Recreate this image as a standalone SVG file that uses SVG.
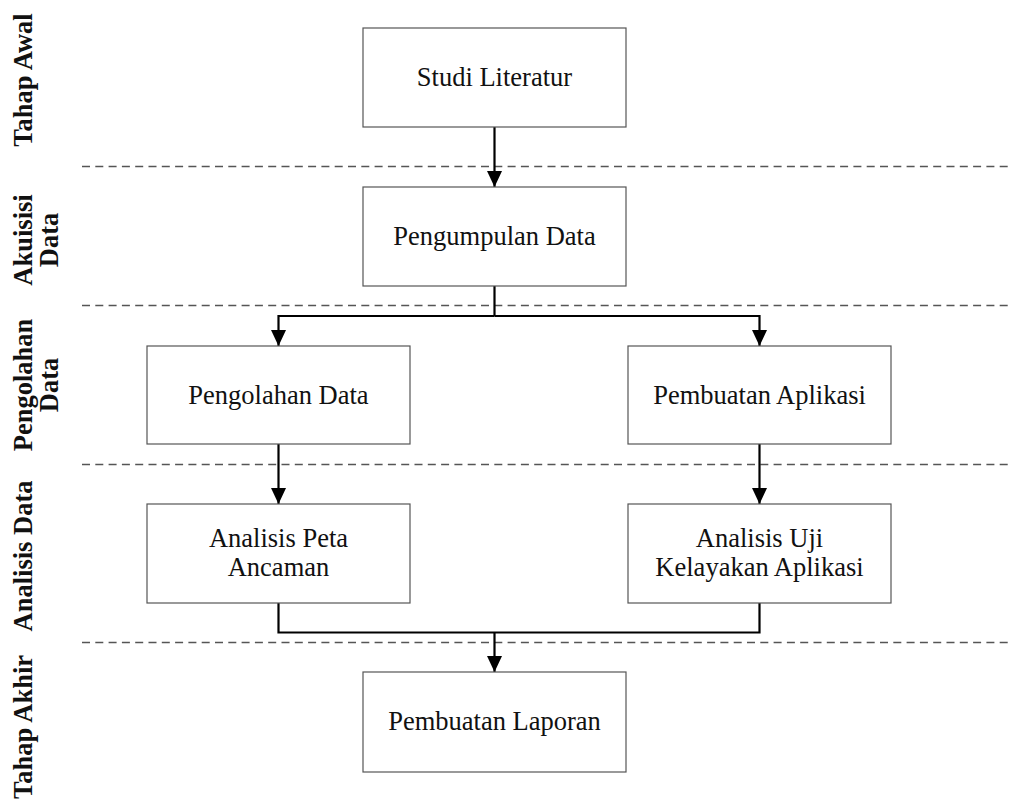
<svg xmlns="http://www.w3.org/2000/svg" width="1009" height="803" viewBox="0 0 1009 803">
<style>
.box{fill:#fff;stroke:#555;stroke-width:1.2}
.t{font-family:"Liberation Serif","Times New Roman",serif;font-size:26.5px;fill:#111;text-anchor:middle}
.lab{font-family:"Liberation Serif","Times New Roman",serif;font-size:26.5px;font-weight:bold;fill:#111;text-anchor:middle}
.dash{stroke:#555;stroke-width:1.5;stroke-dasharray:8,5.3;fill:none}
.con{stroke:#000;stroke-width:2.2;fill:none}
</style>
<defs>
<marker id="arr" markerUnits="userSpaceOnUse" markerWidth="16" markerHeight="16" refX="16" refY="8" orient="auto" viewBox="0 0 16 16">
<path d="M0,0.5 L16,8 L0,15.5 z" fill="#000"/>
</marker>
</defs>
<g id="lanes">
<line class="dash" x1="82" y1="166.5" x2="1009" y2="166.5"/>
<line class="dash" x1="82" y1="305.5" x2="1009" y2="305.5"/>
<line class="dash" x1="82" y1="464.5" x2="1009" y2="464.5"/>
<line class="dash" x1="82" y1="642.5" x2="1009" y2="642.5"/>
</g>
<g id="labels">
<text class="lab" transform="translate(32,80) rotate(-90)">Tahap Awal</text>
<text class="lab" transform="translate(32,240) rotate(-90)">Akuisisi</text>
<text class="lab" transform="translate(58,240) rotate(-90)">Data</text>
<text class="lab" transform="translate(32,385) rotate(-90)">Pengolahan</text>
<text class="lab" transform="translate(58,385) rotate(-90)">Data</text>
<text class="lab" transform="translate(32,556) rotate(-90)">Analisis Data</text>
<text class="lab" transform="translate(32,727) rotate(-90)">Tahap Akhir</text>
</g>
<g id="connectors">
<path class="con" d="M494.5,127 V187" marker-end="url(#arr)"/>
<path class="con" d="M494.5,286 V316"/>
<path class="con" d="M494.5,316 H278.5 V346" marker-end="url(#arr)"/>
<path class="con" d="M494.5,316 H759.5 V346" marker-end="url(#arr)"/>
<path class="con" d="M278.5,444 V504" marker-end="url(#arr)"/>
<path class="con" d="M759.5,444 V504" marker-end="url(#arr)"/>
<path class="con" d="M278.5,603 V632.5 H759.5 V603"/>
<path class="con" d="M494.5,632.5 V672" marker-end="url(#arr)"/>
</g>
<g id="studi">
<rect class="box" x="363" y="28" width="263" height="99"/>
<text class="t" x="494.5" y="86">Studi Literatur</text>
</g>
<g id="pengumpulan">
<rect class="box" x="363" y="187" width="263" height="99"/>
<text class="t" x="494.5" y="245">Pengumpulan Data</text>
</g>
<g id="pengolahan">
<rect class="box" x="147" y="346" width="263" height="98"/>
<text class="t" x="278.5" y="404">Pengolahan Data</text>
</g>
<g id="aplikasi">
<rect class="box" x="628" y="346" width="263" height="98"/>
<text class="t" x="759.5" y="404">Pembuatan Aplikasi</text>
</g>
<g id="peta">
<rect class="box" x="147" y="504" width="263" height="99"/>
<text class="t" x="278.5" y="546.5">Analisis Peta</text>
<text class="t" x="278.5" y="576">Ancaman</text>
</g>
<g id="uji">
<rect class="box" x="628" y="504" width="263" height="99"/>
<text class="t" x="759.5" y="546.5">Analisis Uji</text>
<text class="t" x="759.5" y="576">Kelayakan Aplikasi</text>
</g>
<g id="laporan">
<rect class="box" x="363" y="672" width="263" height="100"/>
<text class="t" x="494.5" y="730">Pembuatan Laporan</text>
</g>
</svg>
